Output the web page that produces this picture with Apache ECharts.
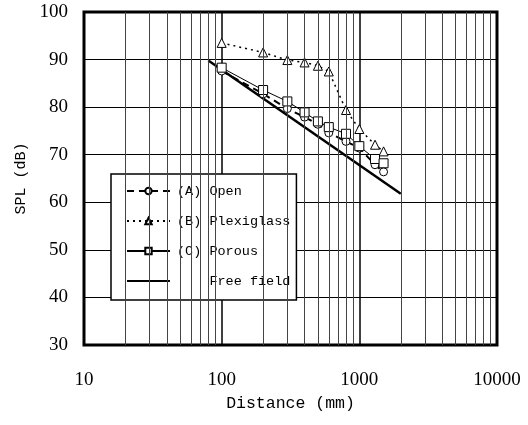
<!DOCTYPE html>
<html>
<head>
<meta charset="utf-8">
<script src="https://cdn.jsdelivr.net/npm/echarts@6/dist/echarts.min.js"></script>
<style>
  html, body { margin: 0; padding: 0; background: #fff; }
  #chart { width: 528px; height: 425px; }
</style>
</head>
<body>
<div id="chart"></div>
<script>
// distance (mm) of the measuring points
var distances = [100, 200, 300, 400, 500, 600, 800, 1000, 1300, 1500];
// SPL (dB) for each case
var splOpen = [87.6, 82.8, 79.7, 77.9, 76.4, 74.6, 72.8, 71.4, 67.9, 66.4];
var splPlexiglass = [93.5, 91.5, 89.9, 89.4, 88.7, 87.5, 79.4, 75.4, 72.1, 70.7];
var splPorous = [88.3, 83.6, 81.2, 78.9, 77.0, 75.8, 74.4, 71.8, 69.1, 68.2];
// free field line (start / end)
var freeFieldX = [80, 2000];
var freeFieldY = [89.8, 61.8];
// minor log grid lines
var minorGrid = [20, 30, 40, 50, 60, 70, 80, 90, 200, 300, 400, 500, 600, 700, 800, 900,
  2000, 3000, 4000, 5000, 6000, 7000, 8000, 9000];

function pairs(xs, ys) {
  return xs.map(function (x, i) { return [x, ys[i]]; });
}

var chart = echarts.init(document.getElementById('chart'));

var markerStyle = { color: '#fff', borderColor: '#000', borderWidth: 1 };

var option = {
  animation: false,
  grid: {
    left: 84, right: 31, top: 12, bottom: 80,
    show: true, borderColor: '#000', borderWidth: 3, backgroundColor: '#fff'
  },
  legend: {
    orient: 'vertical',
    left: 111, top: 174,
    backgroundColor: '#fff',
    borderColor: '#000', borderWidth: 1.5,
    padding: [10, 6, 12, 15],
    itemGap: 16, itemWidth: 43, itemHeight: 8,
    textStyle: { fontFamily: 'Liberation Mono', fontSize: 13.5, color: '#000', padding: [0, 0, 0, 2] },
    data: [
      '(A) Open', '(B) Plexiglass', '(C) Porous',
      { name: '    Free field', itemStyle: { color: 'transparent', borderWidth: 0 } }
    ]
  },
  xAxis: {
    type: 'log', logBase: 10, min: 10, max: 10000,
    name: 'Distance (mm)', nameLocation: 'middle', nameGap: 48,
    nameTextStyle: { fontFamily: 'Liberation Mono', fontSize: 16.5, color: '#000' },
    axisLine: { show: false }, axisTick: { show: false },
    axisLabel: {
      margin: 26, fontFamily: 'Liberation Serif', fontSize: 19, color: '#000',
      formatter: function (v) { return String(Math.round(v)); }
    },
    splitLine: { show: true, lineStyle: { color: '#000', width: 1.5 } }
  },
  yAxis: {
    type: 'value', min: 30, max: 100, interval: 10,
    name: 'SPL (dB)', nameLocation: 'middle', nameGap: 49,
    nameTextStyle: { fontFamily: 'Liberation Mono', fontSize: 15, color: '#000' },
    axisLine: { show: false }, axisTick: { show: false },
    axisLabel: { margin: 16, fontFamily: 'Liberation Serif', fontSize: 19, color: '#000' },
    splitLine: { show: true, lineStyle: { color: '#000', width: 1 } }
  },
  series: [
    {
      name: 'grid', type: 'line', data: [], z: 1, silent: true,
      markLine: {
        silent: true, symbol: 'none', label: { show: false },
        lineStyle: { color: '#444', width: 1, type: 'solid' },
        data: minorGrid.map(function (v) { return { xAxis: v }; })
      }
    },
    {
      name: '(A) Open', type: 'line', data: pairs(distances, splOpen),
      symbol: 'circle', symbolSize: 8, itemStyle: markerStyle,
      lineStyle: { color: '#000', width: 2, type: [7, 5] }
    },
    {
      name: '(B) Plexiglass', type: 'line', data: pairs(distances, splPlexiglass),
      symbol: 'triangle', symbolSize: 9, itemStyle: markerStyle,
      lineStyle: { color: '#000', width: 1.5, type: [2, 4] }
    },
    {
      name: '(C) Porous', type: 'line', data: pairs(distances, splPorous),
      symbol: 'rect', symbolSize: 9, itemStyle: markerStyle,
      lineStyle: { color: '#000', width: 1 }
    },
    {
      name: '    Free field', type: 'line', data: pairs(freeFieldX, freeFieldY),
      symbol: 'none', itemStyle: { color: '#000' },
      lineStyle: { color: '#000', width: 2.5 }
    }
  ]
};

chart.setOption(option);
</script>
</body>
</html>
